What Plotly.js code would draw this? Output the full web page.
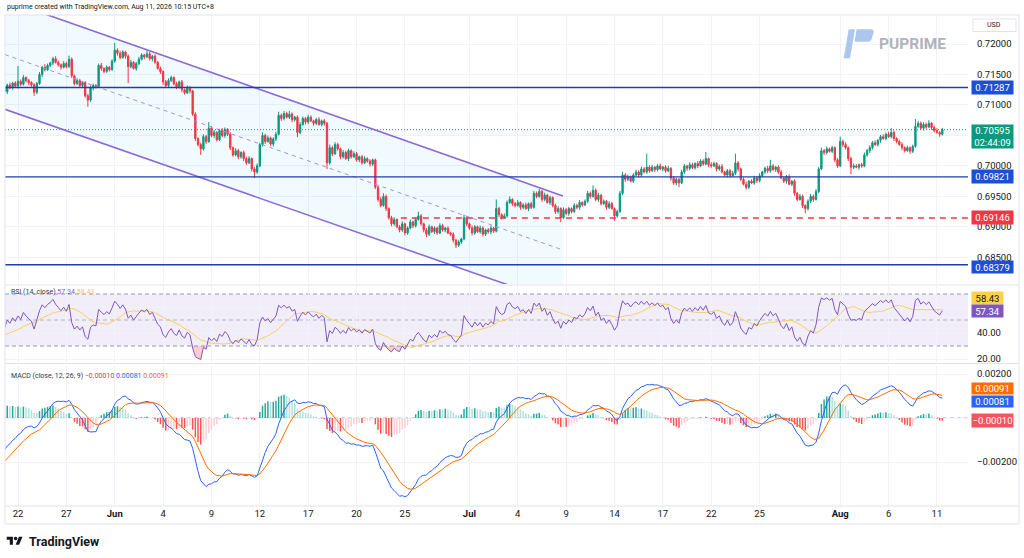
<!DOCTYPE html>
<html><head><meta charset="utf-8">
<script src="https://cdn.plot.ly/plotly-3.0.1.min.js"></script>
<style>html,body{margin:0;padding:0;background:#fff;}#chart{width:1024px;height:558px;}</style>
</head><body><div id="chart"></div>
<script>
// ---- 4H candle closes ----
const closePrice = [
0.7122,0.7133,0.7128,0.7136,0.7131,0.7139,0.7134,0.7145,0.7140,0.7137,
0.7133,0.7121,0.7135,0.7150,0.7162,0.7158,0.7165,0.7169,0.7176,0.7170,
0.7166,0.7162,0.7168,0.7163,0.7175,0.7148,0.7135,0.7140,0.7132,0.7137,
0.7115,0.7108,0.7128,0.7132,0.7130,0.7165,0.7160,0.7155,0.7162,0.7158,
0.7172,0.7190,0.7185,0.7178,0.7187,0.7180,0.7163,0.7170,0.7160,0.7168,
0.7175,0.7182,0.7179,0.7184,0.7176,0.7180,0.7170,0.7160,0.7155,0.7138,
0.7132,0.7140,0.7145,0.7135,0.7130,0.7138,0.7125,0.7120,0.7128,0.7123,
0.7085,0.7045,0.7035,0.7028,0.7048,0.7040,0.7062,0.7050,0.7055,0.7043,
0.7058,0.7050,0.7060,0.7052,0.7030,0.7018,0.7025,0.7015,0.7022,0.7012,
0.7005,0.7012,0.6995,0.6990,0.7000,0.7035,0.7050,0.7040,0.7046,0.7036,
0.7044,0.7052,0.7083,0.7078,0.7086,0.7080,0.7085,0.7076,0.7080,0.7055,
0.7068,0.7078,0.7072,0.7080,0.7074,0.7070,0.7076,0.7068,0.7074,0.7070,
0.7005,0.7030,0.7020,0.7035,0.7028,0.7015,0.7022,0.7012,0.7025,0.7015,
0.7020,0.7010,0.7015,0.7005,0.7012,0.7008,0.7003,0.7010,0.6965,0.6945,
0.6935,0.6950,0.6930,0.6915,0.6905,0.6912,0.6900,0.6895,0.6905,0.6890,
0.6898,0.6908,0.6902,0.6912,0.6918,0.6905,0.6895,0.6888,0.6900,0.6892,
0.6898,0.6890,0.6902,0.6895,0.6898,0.6890,0.6888,0.6878,0.6870,0.6875,
0.6880,0.6915,0.6905,0.6898,0.6890,0.6900,0.6892,0.6898,0.6888,0.6895,
0.6892,0.6898,0.6893,0.6930,0.6920,0.6915,0.6918,0.6940,0.6945,0.6938,
0.6935,0.6940,0.6932,0.6936,0.6930,0.6938,0.6932,0.6955,0.6950,0.6958,
0.6945,0.6952,0.6940,0.6948,0.6935,0.6925,0.6930,0.6915,0.6928,0.6922,
0.6930,0.6925,0.6935,0.6932,0.6940,0.6936,0.6942,0.6955,0.6950,0.6960,
0.6945,0.6952,0.6938,0.6942,0.6932,0.6938,0.6930,0.6918,0.6925,0.6955,
0.6985,0.6978,0.6982,0.6975,0.6985,0.6990,0.6985,0.6995,0.6990,0.6998,
0.6992,0.6998,0.6994,0.7000,0.6995,0.6998,0.6992,0.6996,0.6980,0.6972,
0.6978,0.6972,0.6990,0.7000,0.6996,0.7002,0.6997,0.7004,0.7000,0.7008,
0.7003,0.7012,0.7002,0.7000,0.7004,0.6995,0.6999,0.6990,0.6985,0.6992,
0.6984,0.6988,0.7005,0.6995,0.6978,0.6970,0.6965,0.6975,0.6972,0.6980,
0.6976,0.6984,0.6990,0.6996,0.6992,0.7000,0.6994,0.6998,0.6990,0.6980,
0.6975,0.6982,0.6970,0.6975,0.6955,0.6945,0.6950,0.6935,0.6930,0.6942,
0.6950,0.6945,0.6958,0.6995,0.7025,0.7022,0.7028,0.7024,0.7030,0.7010,
0.7000,0.7040,0.7035,0.7030,0.7012,0.6998,0.7000,0.6998,0.7002,0.7000,
0.7018,0.7025,0.7030,0.7038,0.7035,0.7042,0.7048,0.7045,0.7052,0.7048,
0.7055,0.7045,0.7040,0.7035,0.7030,0.7025,0.7030,0.7024,0.7032,0.7065,
0.7070,0.7062,0.7068,0.7064,0.7070,0.7063,0.7058,0.7055,0.7052,0.70595];
const firstOpen = 0.7130;
// upper / lower wick lengths in pips (0.0001)
const wickUp = [
3,2,4,2,3,25,3,4,2,3, 2,3,3,4,2,5,3,2,3,4, 3,2,4,3,6,3,2,4,3,2, 2,3,4,3,2,3,4,2,3,2,
3,12,3,4,3,2,3,4,2,3, 4,3,2,6,3,2,3,2,3,2, 3,4,3,2,3,2,3,2,4,3, 2,3,2,3,4,3,10,3,4,2,
3,4,3,2,3,2,4,3,2,3, 3,4,2,3,4,3,5,3,4,2, 3,4,6,3,4,3,5,3,2,3, 4,3,2,4,3,2,3,4,2,3,
2,5,3,4,3,2,4,3,3,2, 4,3,2,3,4,2,3,2,2,3, 4,5,3,2,3,4,2,3,4,2, 3,4,2,4,7,3,2,3,4,2,
3,2,4,3,2,3,2,3,2,3, 2,5,3,2,4,3,2,4,3,2, 3,4,2,15,3,2,4,3,5,2, 3,4,2,3,4,2,3,4,3,4,
3,4,2,3,2,3,4,2,4,3, 3,2,4,3,4,2,3,4,3,8, 3,4,2,3,2,4,3,2,3,4, 5,3,4,2,3,4,3,4,3,22,
3,4,2,3,4,2,3,4,2,3, 3,2,4,3,2,4,3,2,4,3, 3,11,2,4,3,2,3,4,2,3, 3,4,15,3,2,3,4,2,3,4,
3,4,2,3,4,10,3,2,3,4, 2,3,4,2,3,2,4,3,2,3, 4,3,4,3,5,3,4,2,3,2, 3,8,3,4,2,3,4,3,2,3,
4,3,4,3,4,2,3,4,3,4, 7,3,2,3,4,2,3,2,3,12, 4,3,4,3,5,2,3,4,2,3];
const wickDn = [
3,4,2,3,2,4,3,2,3,4, 3,6,3,2,4,3,2,3,4,2, 3,4,2,3,2,4,3,2,4,3, 3,11,3,4,3,2,4,3,2,3,
2,3,4,3,2,4,27,3,2,4, 3,2,4,2,3,4,3,2,4,5, 4,3,2,3,4,3,4,3,2,4, 3,4,3,10,3,4,2,3,4,3,
2,3,4,3,4,3,2,4,3,4, 3,2,4,10,3,2,3,4,2,3, 4,3,2,4,3,2,3,4,3,8, 3,2,4,3,2,4,3,2,3,4,
10,3,4,2,3,4,3,2,4,3, 2,3,4,3,2,3,4,3,3,4, 3,2,4,3,4,3,2,4,3,4, 3,2,4,3,2,3,4,5,3,2,
4,3,2,3,4,2,3,4,5,3, 3,2,4,3,4,3,2,3,4,3, 3,4,3,2,4,3,2,3,2,4, 3,2,4,3,2,4,3,2,3,2,
4,3,2,4,3,4,3,7,2,3, 4,3,2,3,4,3,2,3,4,2, 3,4,3,2,4,3,2,8,3,2, 3,4,3,2,3,2,4,3,2,3,
3,2,4,3,2,4,3,2,4,3, 4,7,2,3,4,3,2,3,4,2, 3,2,4,3,2,4,3,2,3,4, 3,2,3,4,3,2,4,3,2,3,
4,3,2,3,4,3,2,4,3,2, 3,4,2,3,4,3,2,4,8,3, 3,4,2,3,2,4,3,2,3,4, 3,2,4,3,4,12,3,2,4,3,
2,3,4,3,2,3,4,2,3,2, 3,4,3,2,4,3,2,4,3,2, 3,2,4,3,2,4,3,2,4,2];
// time axis
const tickIndex  = [5,23,41,59,77,95,113,131,149,173,191,209,227,245,263,281,311,329,347];
const tickLabels = ["22","27","<b>Jun</b>","4","9","12","17","20","25","<b>Jul</b>","4","9","14","17","22","25","<b>Aug</b>","6","11"];
// price scale / levels (tick labels hidden under a price box are left blank)
const priceTicks     = [0.685,0.690,0.695,0.700,0.705,0.710,0.715,0.720];
const priceTickText  = ["0.68500","0.69000","0.69500","0.70000","","0.71000","0.71500","0.72000"];
const rsiTicks       = [20,40,60];
const rsiTickText    = ["20.00","40.00",""];
const macdTicks      = [-0.002,0,0.002];
const macdTickText   = ["\u22120.00200","","0.00200"];
const blueLevels  = [0.71287,0.69821,0.68379];
const redLevel    = 0.69146;
const lastPrice   = 0.70595;
const countdown   = "02:44:09";
// indicator read-outs shown on the chart
const rsiValue = 57.34, rsiMaValue = 58.43;
const macdHistValue = -0.00010, macdValue = 0.00081, macdSignalValue = 0.00091;
// indicator state at the left edge
const rsiStartGain = 0.00033, rsiStartLoss = 0.00036, rsiMaStart = 38;
const macdStartFast = 0.7127, macdStartSlow = 0.7142, macdStartSignal = -0.0021;

// ---------- derived series ----------
const idx = closePrice.map((_, i) => i);
const openPrice = closePrice.map((c, i) => i === 0 ? firstOpen : closePrice[i - 1]);
const PIP = 0.0001;
const highPrice = closePrice.map((c, i) => Math.max(c, openPrice[i]) + (wickUp[i] || 0) * PIP);
const lowPrice  = closePrice.map((c, i) => Math.min(c, openPrice[i]) - (wickDn[i] || 0) * PIP);

// RSI(14) Wilder
let ag = rsiStartGain, al = rsiStartLoss;
const rsi = closePrice.map((c, i) => {
  const ch = c - openPrice[i];
  ag = (ag * 13 + Math.max(ch, 0)) / 14;
  al = (al * 13 + Math.max(-ch, 0)) / 14;
  return 100 - 100 / (1 + ag / al);
});
const rsiMa = rsi.map((v, i) => {
  let s = 0;
  for (let k = i - 13; k <= i; k++) s += k < 0 ? rsiMaStart : rsi[k];
  return s / 14;
});
// MACD 12/26/9
let e12 = macdStartFast, e26 = macdStartSlow, sg = macdStartSignal;
const macd = [], signal = [], hist = [];
closePrice.forEach(c => {
  e12 += (2 / 13) * (c - e12);
  e26 += (2 / 27) * (c - e26);
  const m = e12 - e26;
  sg += 0.2 * (m - sg);
  macd.push(m); signal.push(sg); hist.push(m - sg);
});
const histColor = hist.map((h, i) => {
  const p = i === 0 ? (macdStartFast - macdStartSlow - macdStartSignal) : hist[i - 1];
  if (h >= 0) return h > p ? '#26a69a' : '#b2dfdb';
  return h < p ? '#ff5252' : '#ffcdd2';
});

// ---------- geometry helpers (pixel -> paper) ----------
const PL = 5, PR = 968, PT = 15, PB = 506;
const X = px => (px - PL) / (PR - PL);
const Y = py => (PB - py) / (PB - PT);
const pth = s => s.replace(/(-?[\d.]+),(-?[\d.]+)/g, (m, a, b) => X(+a).toFixed(5) + ',' + Y(+b).toFixed(5));
const XR = [0.16, 358.56];
const fmt5 = v => (v < 0 ? '\u2212' : '') + Math.abs(v).toFixed(5);

const traces = [
  { type: 'candlestick', x: idx, open: openPrice, high: highPrice, low: lowPrice, close: closePrice,
    increasing: { line: { color: '#089981', width: 1 }, fillcolor: '#089981' },
    decreasing: { line: { color: '#f23645', width: 1 }, fillcolor: '#f23645' },
    whiskerwidth: 0, hoverinfo: 'skip', xaxis: 'x', yaxis: 'y' },
  { type: 'scatter', mode: 'lines', x: idx, y: idx.map(() => 30), line: { width: 0 }, yaxis: 'y2', hoverinfo: 'skip' },
  { type: 'scatter', mode: 'lines', x: idx, y: rsi.map(v => Math.min(v, 30)), line: { width: 0 }, fill: 'tonexty', fillcolor: 'rgba(242,54,69,0.25)', yaxis: 'y2', hoverinfo: 'skip' },
  { type: 'scatter', mode: 'lines', x: idx, y: idx.map(() => 70), line: { width: 0 }, yaxis: 'y2', hoverinfo: 'skip' },
  { type: 'scatter', mode: 'lines', x: idx, y: rsi.map(v => Math.max(v, 70)), line: { width: 0 }, fill: 'tonexty', fillcolor: 'rgba(8,153,129,0.2)', yaxis: 'y2', hoverinfo: 'skip' },
  { type: 'scatter', mode: 'lines', x: idx, y: rsiMa, line: { color: '#f7d060', width: 1 }, yaxis: 'y2', hoverinfo: 'skip' },
  { type: 'scatter', mode: 'lines', x: idx, y: rsi, line: { color: '#7e57c2', width: 1 }, yaxis: 'y2', hoverinfo: 'skip' },
  { type: 'bar', x: idx, y: hist, marker: { color: histColor, line: { width: 0 } }, width: 0.55, yaxis: 'y3', hoverinfo: 'skip' },
  { type: 'scatter', mode: 'lines', x: idx, y: macd, line: { color: '#2962ff', width: 1 }, yaxis: 'y3', hoverinfo: 'skip' },
  { type: 'scatter', mode: 'lines', x: idx, y: signal, line: { color: '#ff6d00', width: 1 }, yaxis: 'y3', hoverinfo: 'skip' }
];

const grid = '#f0f3fa', sep = '#e0e3eb';
const shapes = [];
// channel (drawing)
const chX0 = 0.16, chX1 = 207.8;
const up0 = 0.72724, up1 = 0.69506, lo0 = 0.70929, lo1 = 0.67733, md0 = 0.71827, md1 = 0.68620;
shapes.push({ type: 'path', xref: 'x', yref: 'y', layer: 'between',
  path: `M${chX0},${up0} L${chX1},${up1} L${chX1},${lo1} L${chX0},${lo0} Z`,
  fillcolor: 'rgba(3,169,244,0.055)', line: { width: 0 } });
shapes.push({ type: 'line', xref: 'x', yref: 'y', x0: chX0, y0: md0, x1: chX1, y1: md1, layer: 'above', line: { color: '#a593e0', width: 1, dash: '4px,4px' } });
shapes.push({ type: 'line', xref: 'x', yref: 'y', x0: chX0, y0: up0, x1: chX1, y1: up1, layer: 'above', line: { color: '#8c6bd9', width: 1.6 } });
shapes.push({ type: 'line', xref: 'x', yref: 'y', x0: chX0, y0: lo0, x1: chX1, y1: lo1, layer: 'above', line: { color: '#8c6bd9', width: 1.6 } });
// levels
blueLevels.forEach(v => shapes.push({ type: 'line', xref: 'paper', yref: 'y', x0: 0, x1: 1, y0: v, y1: v, layer: 'above', line: { color: '#1d3fae', width: 1.4 } }));
shapes.push({ type: 'line', xref: 'x', yref: 'y', x0: 147.5, x1: XR[1], y0: redLevel, y1: redLevel, layer: 'above', line: { color: '#f23645', width: 1.4, dash: '6px,5px' } });
shapes.push({ type: 'line', xref: 'paper', yref: 'y', x0: 0, x1: 1, y0: lastPrice, y1: lastPrice, layer: 'above', line: { color: '#089981', width: 1, dash: '1px,2px' } });
// RSI band + levels
shapes.push({ type: 'rect', xref: 'paper', yref: 'y2', x0: 0, x1: 1, y0: 30, y1: 70, layer: 'between', fillcolor: 'rgba(126,87,194,0.1)', line: { width: 0 } });
[70, 50, 30].forEach(v => shapes.push({ type: 'line', xref: 'paper', yref: 'y2', x0: 0, x1: 1, y0: v, y1: v, layer: 'between', line: { color: v === 50 ? '#b2b5be' : '#9598a1', width: 1, dash: '4px,3px' } }));
shapes.push({ type: 'line', xref: 'paper', yref: 'y3', x0: 0, x1: 1, y0: 0, y1: 0, layer: 'between', line: { color: '#b2b5be', width: 1, dash: '4px,3px' } });
// pane separators + frame
[285, 363.5, 506].forEach(py => shapes.push({ type: 'line', xref: 'paper', yref: 'paper', x0: 0, x1: X(1019), y0: Y(py), y1: Y(py), line: { color: sep, width: 1 } }));
shapes.push({ type: 'rect', xref: 'paper', yref: 'paper', x0: X(5), x1: X(1019), y0: Y(524), y1: Y(15), line: { color: sep, width: 1 } });
// USD box
shapes.push({ type: 'rect', xref: 'paper', yref: 'paper', x0: X(973), x1: X(1016), y0: Y(31.5), y1: Y(19), line: { color: sep, width: 1 }, fillcolor: '#fff' });
// PUPRIME watermark logo
shapes.push({ type: 'path', xref: 'paper', yref: 'paper', path: pth('M848.7,29.3 L855,29.3 L850,58.3 L843.7,58.3 Z'), fillcolor: '#adc6ee', line: { width: 0 } });
shapes.push({ type: 'path', xref: 'paper', yref: 'paper', path: pth('M856.6,29.3 L870.6,29.3 Q874.6,29.3 873.5,33 L871.4,39.4 Q870.6,41.8 868,41.8 L854.6,41.8 Z'), fillcolor: '#adc6ee', line: { width: 0 } });
// TradingView logo
shapes.push({ type: 'path', xref: 'paper', yref: 'paper', path: pth('M6.7,536.7 L12.9,536.7 L12.9,544.7 L9.8,544.7 L9.8,539.8 L6.7,539.8 Z'), fillcolor: '#131722', line: { width: 0 } });
shapes.push({ type: 'circle', xref: 'paper', yref: 'paper', x0: X(13.8), x1: X(17.4), y0: Y(540.3), y1: Y(536.7), fillcolor: '#131722', line: { width: 0 } });
shapes.push({ type: 'path', xref: 'paper', yref: 'paper', path: pth('M19.1,544.7 L15.6,544.7 L18.9,536.7 L22.5,536.7 Z'), fillcolor: '#131722', line: { width: 0 } });

const ann = [];
const box = (text, yref, y, bg, opts = {}) => Object.assign({
  text, xref: 'paper', x: 1, xanchor: 'left', xshift: 3, yref, y, yanchor: 'middle',
  showarrow: false, bgcolor: bg, borderpad: 0, width: 41, height: 13, align: 'center',
  font: { size: 9.5, color: '#ffffff', family: 'Roboto, sans-serif' } }, opts);
blueLevels.forEach((v, k) => ann.push(box(fmt5(v), 'y', v, '#1c4ed8', k === 2 ? { height: 12, yshift: -2 } : {})));
ann.push(box(lastPrice.toFixed(5) + '<br>' + countdown, 'y', lastPrice, '#089981', { yanchor: 'top', yshift: 6, height: 23 }));
ann.push(box(fmt5(redLevel), 'y', redLevel, '#f23645'));
ann.push(box(rsiMaValue.toFixed(2), 'y2', rsiMaValue, '#fbd24a', { width: 31, height: 12, yshift: 11, font: { size: 9.5, color: '#131722', family: 'Roboto, sans-serif' } }));
ann.push(box(rsiValue.toFixed(2), 'y2', rsiValue, '#7e57c2', { width: 31, height: 12, yshift: -1 }));
ann.push(box(fmt5(macdSignalValue), 'y3', macdSignalValue, '#ff6d00', { height: 11, yshift: 10 }));
ann.push(box(fmt5(macdValue), 'y3', macdValue, '#2962ff', { height: 11, yshift: -1 }));
ann.push(box(fmt5(macdHistValue), 'y3', macdHistValue, '#f7525f', { height: 13 }));
const txt = (text, px, py, size, color, opts = {}) => Object.assign({
  text, xref: 'paper', yref: 'paper', x: X(px), y: Y(py), xanchor: 'left', yanchor: 'middle',
  showarrow: false, font: { size, color, family: 'Roboto, sans-serif' } }, opts);
ann.push(txt('puprime created with TradingView.com, Aug 11, 2026 10:15 UTC+8', 5, 7.5, 7, '#131722'));
ann.push(txt('USD', 994.5, 25.3, 7, '#131722', { xanchor: 'center' }));
ann.push(txt('PUPRIME', 876.5, 44, 15.5, '#b2b5bc', { font: { size: 15.5, color: '#b0b3ba', family: 'Roboto, sans-serif', weight: 700 } }));
ann.push(txt('TradingView', 26.5, 541, 12.5, '#131722', { font: { size: 12.5, color: '#131722', family: 'Roboto, sans-serif', weight: 700 } }));
ann.push(txt('RSI (14, close) <span style="color:#7e57c2">' + rsiValue.toFixed(2) + '</span> <span style="color:#f2c744">' + rsiMaValue.toFixed(2) + '</span>', 9, 292.5, 7, '#363a45'));
ann.push(txt('MACD (close, 12, 26, 9) <span style="color:#f23645">' + fmt5(macdHistValue) + '</span> <span style="color:#2962ff">' + fmt5(macdValue) + '</span> <span style="color:#ff6d00">' + fmt5(macdSignalValue) + '</span>', 9, 376, 7, '#363a45'));

const yCommon = { side: 'right', ticks: '', ticklen: 0, showline: false, zeroline: false, gridcolor: grid, anchor: 'x',
  ticklabelstandoff: 8, tickfont: { size: 9.5, color: '#131722' }, fixedrange: true };
const layout = {
  width: 1024, height: 558, margin: { l: PL, r: 1024 - PR, t: PT, b: 558 - PB },
  paper_bgcolor: '#ffffff', plot_bgcolor: '#ffffff', showlegend: false, hovermode: false,
  font: { family: 'Roboto, sans-serif', color: '#131722', size: 9.5 },
  xaxis: { range: XR, tickvals: tickIndex, ticktext: tickLabels, showgrid: true, gridcolor: grid, zeroline: false,
    showline: false, ticks: '', anchor: 'y3', rangeslider: { visible: false }, fixedrange: true, tickfont: { size: 9.5, color: '#131722' } },
  yaxis: Object.assign({}, yCommon, { domain: [Y(284), 1], range: [0.68062, 0.72477], tickvals: priceTicks, ticktext: priceTickText }),
  yaxis2: Object.assign({}, yCommon, { domain: [Y(362), Y(286)], range: [17.7, 76.15], tickvals: rsiTicks, ticktext: rsiTickText }),
  yaxis3: Object.assign({}, yCommon, { domain: [0, Y(365)], range: [-0.0040, 0.00241], tickvals: macdTicks, ticktext: macdTickText }),
  shapes, annotations: ann
};
Plotly.newPlot('chart', traces, layout, { staticPlot: true, displayModeBar: false });
</script></body></html>
